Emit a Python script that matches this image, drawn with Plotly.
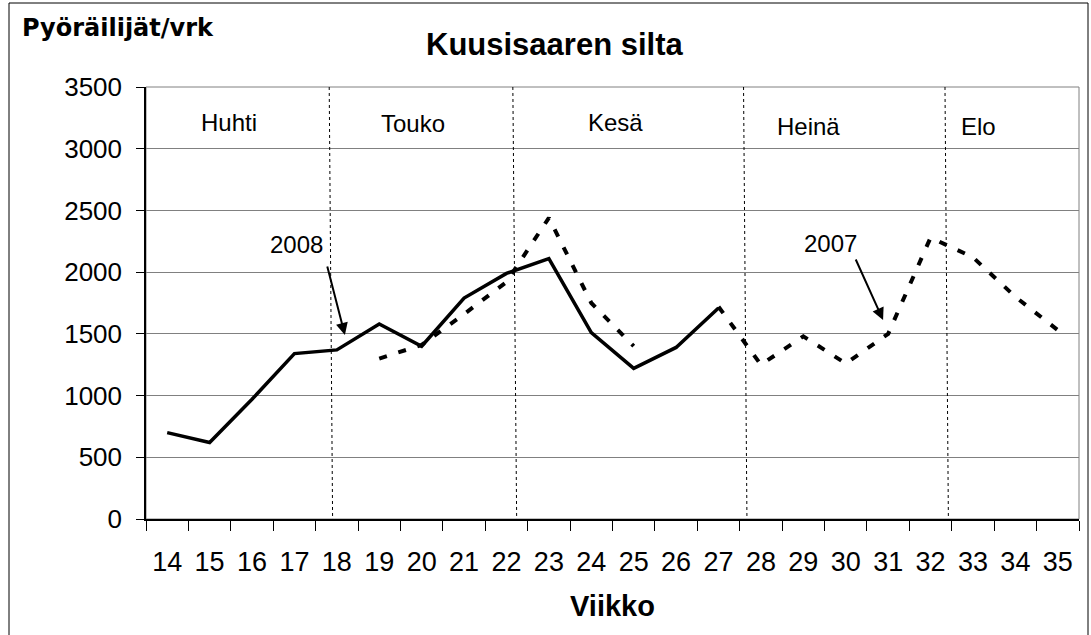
import plotly.graph_objects as go

weeks = [str(w) for w in range(14, 36)]
v2008 = [700, 620, 970, 1340, 1370, 1580, 1400, 1790, 1990, 2110, 1510, 1220, 1390, 1710,
         None, None, None, None, None, None, None, None]
v2007 = [None, None, None, None, None, 1300, 1410, 1660, 1920, 2440, 1750, 1400, None, 1720,
         1250, 1480, 1260, 1500, 2280, 2120, 1800, 1530]
months = ["Huhti", "Touko", "Kesä", "Heinä", "Elo"]
month_pos = [1.46, 5.80, 10.56, 15.11, 19.12]
month_y = [3216, 3208, 3216, 3176, 3176]
month_bounds = [(3.82, 3.90), (8.15, 8.24), (13.59, 13.67), (18.34, 18.42)]

FONT = "Arial, Liberation Sans, sans-serif"
W, H = 1091, 635
L, R, T, B = 146, 12, 87, 116
PW, PH = W - L - R, H - T - B

def px(x):
    return (x - L) / PW

def py(y):
    return (H - B - y) / PH

fig = go.Figure()
fig.add_trace(go.Scatter(x=weeks, y=v2007, mode="lines", connectgaps=False,
                         line=dict(color="black", width=4, dash="8px,12px"),
                         name="2007", showlegend=False))
fig.add_trace(go.Scatter(x=weeks, y=v2008, mode="lines", connectgaps=False,
                         line=dict(color="black", width=3.5),
                         name="2008", showlegend=False))

shapes = []
shapes.append(dict(type="rect", xref="paper", yref="paper", x0=0, x1=1, y0=0, y1=1,
                   line=dict(color="#808080", width=1), layer="below"))
shapes.append(dict(type="rect", xref="paper", yref="paper", x0=px(9), x1=px(1088),
                   y0=py(645), y1=py(3), line=dict(color="black", width=1)))
for (a, b) in month_bounds:
    shapes.append(dict(type="line", xref="x", yref="y", x0=a, x1=b, y0=3500, y1=0,
                       line=dict(color="black", width=1, dash="dot")))

ann = []
for m, xp, yp in zip(months, month_pos, month_y):
    ann.append(dict(x=xp, y=yp, xref="x", yref="y", text=m, showarrow=False,
                    xanchor="center", yanchor="middle",
                    font=dict(size=24, color="black", family=FONT)))
ann.append(dict(x=3.06, y=2220, xref="x", yref="y", text="2008", showarrow=False,
                xanchor="center", yanchor="middle",
                font=dict(size=24, color="black", family=FONT)))
ann.append(dict(x=15.63, y=2236, xref="x", yref="y", text="2007", showarrow=False,
                xanchor="center", yanchor="middle",
                font=dict(size=24, color="black", family=FONT)))
ann.append(dict(x=4.19, y=1491, xref="x", yref="y", text="", showarrow=True,
                ax=-18, ay=-70, arrowhead=2, arrowsize=1.2, arrowwidth=2, arrowcolor="black"))
ann.append(dict(x=16.88, y=1612, xref="x", yref="y", text="", showarrow=True,
                ax=-28, ay=-62, arrowhead=2, arrowsize=1.2, arrowwidth=2, arrowcolor="black"))
ann.append(dict(x=px(554), y=py(45), xref="paper", yref="paper", text="<b>Kuusisaaren silta</b>",
                showarrow=False, xanchor="center", yanchor="middle",
                font=dict(size=31, color="black", family=FONT)))
ann.append(dict(x=px(20), y=py(28), xref="paper", yref="paper", text="<b>Pyöräilijät/vrk</b>",
                showarrow=False, xanchor="left", yanchor="middle",
                font=dict(size=24, color="black", family="DejaVu Sans, Arial, sans-serif")))
ann.append(dict(x=px(612), y=py(606), xref="paper", yref="paper", text="<b>Viikko</b>",
                showarrow=False, xanchor="center", yanchor="middle",
                font=dict(size=29, color="black", family=FONT)))

fig.update_layout(
    width=W, height=H,
    margin=dict(l=L, r=R, t=T, b=B),
    paper_bgcolor="white", plot_bgcolor="white",
    shapes=shapes, annotations=ann,
    showlegend=False,
)
fig.update_xaxes(type="category", categoryorder="array", categoryarray=weeks,
                 range=[-0.5, 21.5], tickson="boundaries", ticks="outside", ticklen=10,
                 tickcolor="black", showline=True, linecolor="black", linewidth=1.5,
                 showgrid=False, zeroline=False, ticklabelstandoff=18,
                 tickfont=dict(size=27, color="black", family=FONT))
fig.update_yaxes(range=[0, 3500], tickvals=[0, 500, 1000, 1500, 2000, 2500, 3000, 3500],
                 ticks="outside", ticklen=8, tickcolor="black", showline=True,
                 linecolor="black", linewidth=1.5, showgrid=True, gridcolor="#808080",
                 gridwidth=1, zeroline=False, ticklabelstandoff=9,
                 tickfont=dict(size=26, color="black", family=FONT))

fig.write_html("out.html", config={"displayModeBar": False},
               post_script="document.body.style.margin='0';document.body.style.overflow='hidden';")
